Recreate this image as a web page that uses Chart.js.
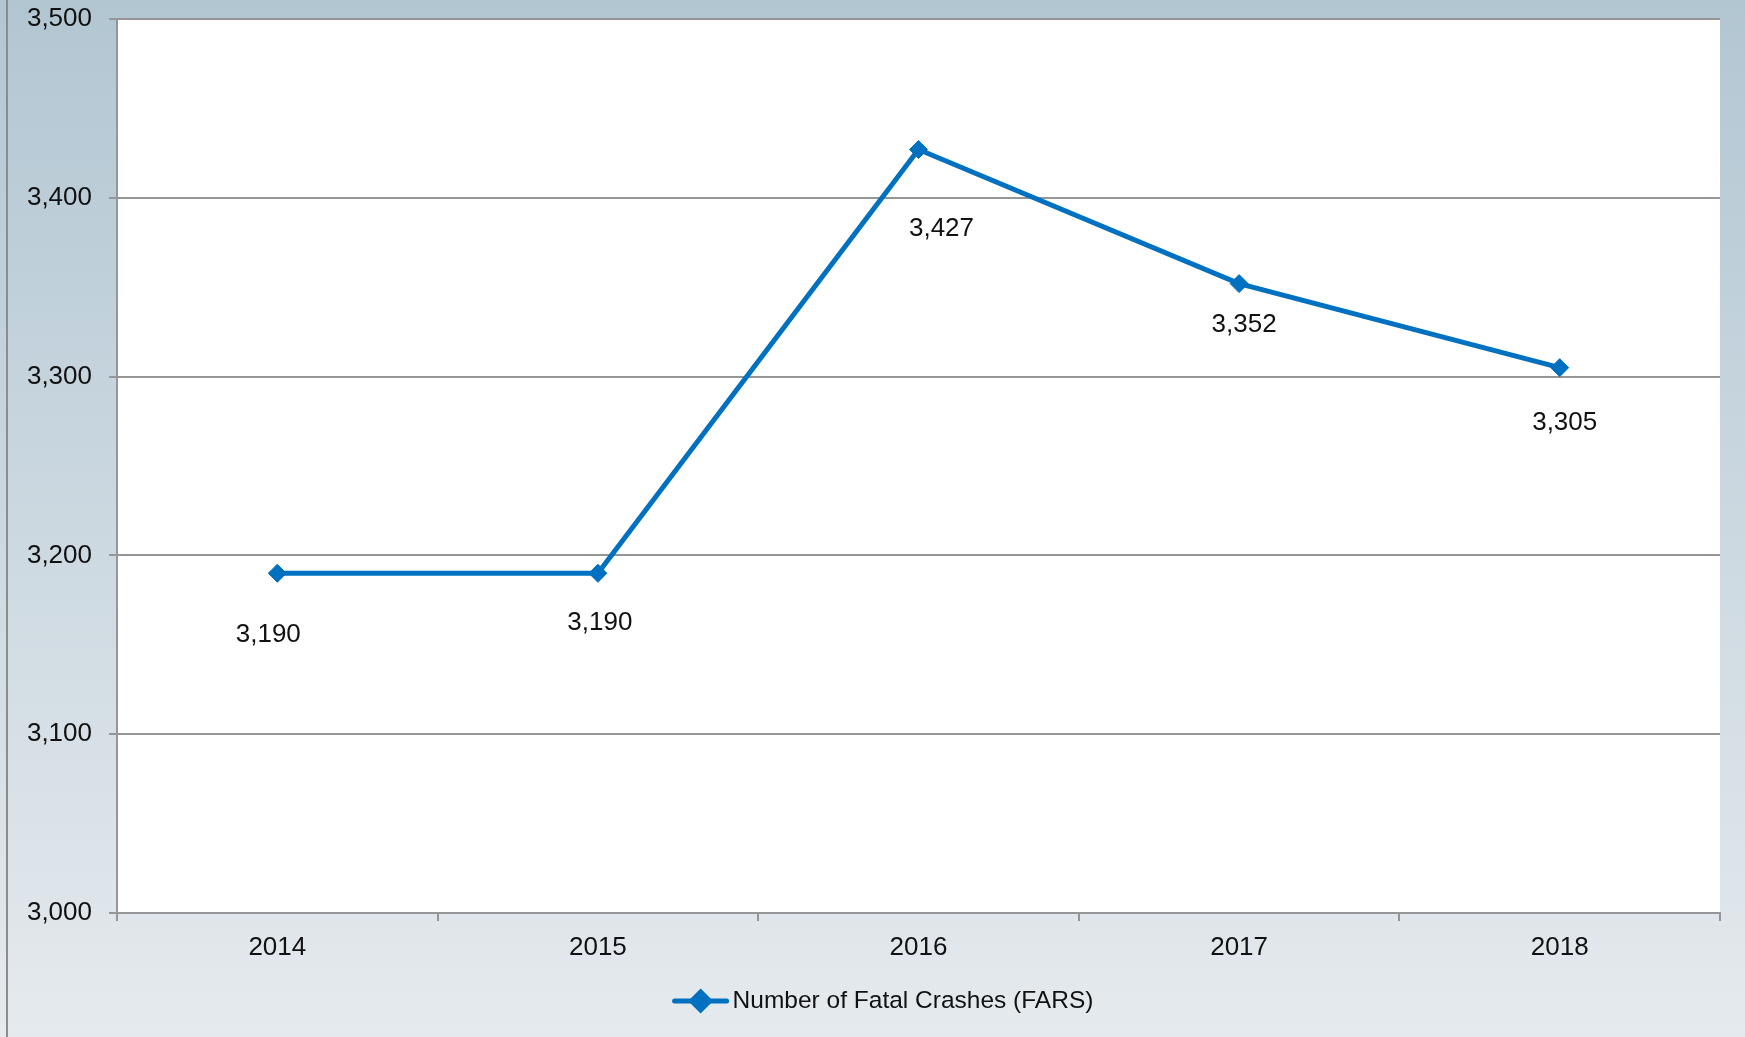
<!DOCTYPE html>
<html><head><meta charset="utf-8">
<script src="https://cdn.jsdelivr.net/npm/chart.js@4"></script>
<style>html,body{margin:0;padding:0;overflow:hidden;background:#fff}canvas{display:block}</style>
</head><body>
<canvas id="c" width="1745" height="1037"></canvas>
<script>
const years = ['2014', '2015', '2016', '2017', '2018'];
const fatalCrashes = [3190, 3190, 3427, 3352, 3305];
const yTickValues = [3000, 3100, 3200, 3300, 3400, 3500];
const seriesName = 'Number of Fatal Crashes (FARS)';

const FONT = "'Liberation Sans', Arial, sans-serif";
const LINE = '#0070c0';
const GRID = '#969696';

const bgPlugin = {
  id: 'bg',
  beforeDraw(chart) {
    const { ctx, width, height, chartArea: a } = chart;
    ctx.save();
    const g = ctx.createLinearGradient(0, 0, 0, height);
    g.addColorStop(0, '#b2c6d2');
    g.addColorStop(1, '#e5eaee');
    ctx.fillStyle = g;
    ctx.fillRect(0, 0, width, height);
    ctx.fillStyle = '#8c8c8c';
    ctx.fillRect(6, 0, 2, height);
    ctx.fillStyle = '#ffffff';
    ctx.fillRect(a.left, a.top, a.right - a.left, a.bottom - a.top);
    ctx.restore();
  }
};

const labelPlugin = {
  id: 'valueLabels',
  afterDatasetsDraw(chart, args, opts) {
    const { ctx } = chart;
    const meta = chart.getDatasetMeta(0);
    const data = chart.data.datasets[0].data;
    ctx.save();
    ctx.font = opts.font;
    ctx.fillStyle = opts.color;
    ctx.textAlign = 'center';
    ctx.textBaseline = 'middle';
    meta.data.forEach((pt, i) => {
      const off = opts.offsets[i] || [0, 40];
      ctx.fillText(data[i].toLocaleString('en-US'), pt.x + off[0], pt.y + off[1]);
    });
    ctx.restore();
  }
};

const legendPlugin = {
  id: 'customLegend',
  afterDraw(chart, args, opts) {
    const { ctx } = chart;
    const ds = chart.data.datasets[0];
    ctx.save();
    ctx.font = opts.font;
    const tw = ctx.measureText(ds.label).width;
    const total = opts.lineLen + opts.gap + tw;
    const x0 = opts.centerX - total / 2;
    const y = opts.y;
    ctx.strokeStyle = ds.borderColor;
    ctx.lineWidth = ds.borderWidth;
    ctx.lineCap = 'round';
    ctx.beginPath();
    ctx.moveTo(x0 + 2, y);
    ctx.lineTo(x0 + opts.lineLen - 2, y);
    ctx.stroke();
    ctx.fillStyle = ds.pointBackgroundColor;
    ctx.strokeStyle = ds.pointBorderColor;
    Chart.helpers.drawPoint(ctx, { pointStyle: ds.pointStyle, radius: ds.pointRadius, borderWidth: 1, rotation: 0 }, x0 + opts.lineLen / 2, y);
    ctx.fillStyle = opts.color;
    ctx.textAlign = 'left';
    ctx.textBaseline = 'middle';
    ctx.fillText(ds.label, x0 + opts.lineLen + opts.gap, y);
    ctx.restore();
  }
};

function zeroPad(s) {
  s.paddingTop = 0; s.paddingBottom = 0; s.paddingLeft = 0; s.paddingRight = 0;
}

new Chart(document.getElementById('c'), {
  type: 'line',
  data: {
    labels: years,
    datasets: [{
      label: seriesName,
      data: fatalCrashes,
      borderColor: LINE,
      backgroundColor: LINE,
      borderWidth: 5,
      tension: 0,
      pointStyle: 'rectRot',
      pointRadius: 9,
      pointHoverRadius: 9,
      pointBackgroundColor: LINE,
      pointBorderColor: LINE,
      pointBorderWidth: 1,
      fill: false
    }]
  },
  options: {
    responsive: false,
    animation: false,
    events: [],
    layout: { padding: { left: 0, right: 25, top: 19, bottom: 70 } },
    plugins: {
      legend: { display: false },
      tooltip: { enabled: false },
      valueLabels: {
        font: `26px ${FONT}`,
        color: '#111111',
        offsets: [[-9, 62], [2, 50], [23, 79], [5, 41], [5, 55]]
      },
      customLegend: {
        font: `24.5px ${FONT}`,
        color: '#111111',
        centerX: 883,
        y: 1001,
        lineLen: 56,
        gap: 4
      }
    },
    scales: {
      x: {
        type: 'category',
        offset: true,
        afterFit(s) { s.height = 54; zeroPad(s); },
        grid: {
          display: true,
          offset: true,
          drawOnChartArea: false,
          drawTicks: true,
          tickLength: 8,
          color: GRID,
          lineWidth: 2
        },
        border: { display: true, color: GRID, width: 2 },
        ticks: {
          color: '#111111',
          font: { family: FONT, size: 26 },
          padding: 11,
          maxRotation: 0
        }
      },
      y: {
        min: 3000,
        max: 3500,
        afterFit(s) { s.width = 117; zeroPad(s); },
        afterBuildTicks(s) { s.ticks = yTickValues.map(v => ({ value: v })); },
        grid: {
          color: GRID,
          lineWidth: 2,
          drawTicks: true,
          tickLength: 8
        },
        border: { display: true, color: GRID, width: 2 },
        ticks: {
          color: '#111111',
          font: { family: FONT, size: 26 },
          padding: 17,
          callback: v => Number(v).toLocaleString('en-US')
        }
      }
    }
  },
  plugins: [bgPlugin, labelPlugin, legendPlugin]
});
</script>
</body></html>
